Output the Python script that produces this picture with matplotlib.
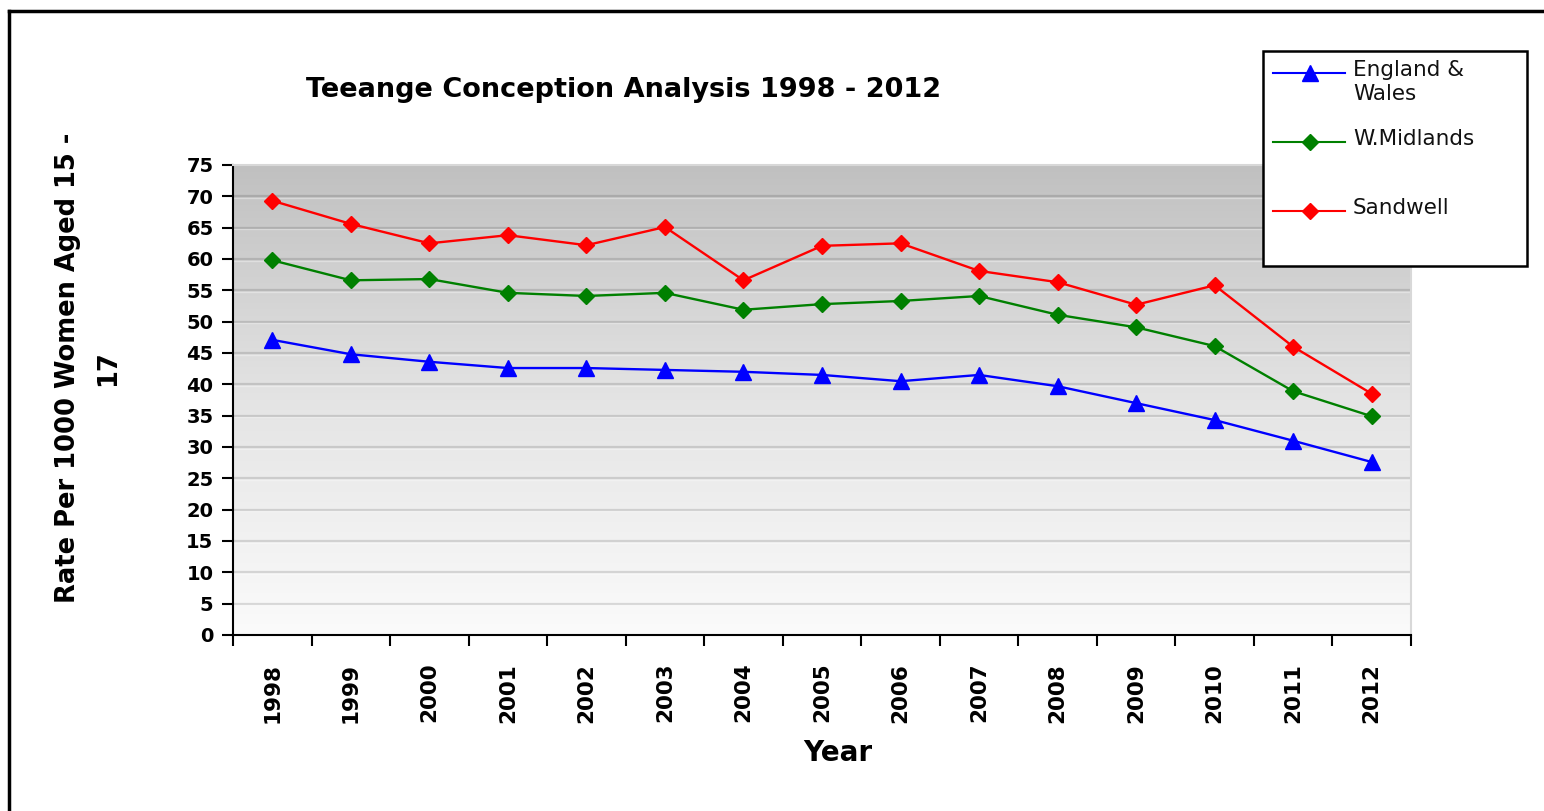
import numpy as np
import matplotlib
matplotlib.use("Agg")
import matplotlib.pyplot as plt
from matplotlib.lines import Line2D
from matplotlib.patches import Rectangle

years = ["1998", "1999", "2000", "2001", "2002", "2003", "2004", "2005",
         "2006", "2007", "2008", "2009", "2010", "2011", "2012"]
england_wales = [47.1, 44.8, 43.6, 42.6, 42.6, 42.3, 42.0, 41.5, 40.5, 41.5,
                 39.7, 37.0, 34.3, 31.0, 27.6]
w_midlands = [59.8, 56.6, 56.8, 54.6, 54.1, 54.6, 51.9, 52.8, 53.3, 54.1,
              51.1, 49.1, 46.1, 38.9, 34.9]
sandwell = [69.3, 65.6, 62.5, 63.8, 62.2, 65.1, 56.6, 62.1, 62.5, 58.1,
            56.3, 52.7, 55.8, 46.0, 38.5]
series_names = ["England &\nWales", "W.Midlands", "Sandwell"]
series_colors = ["#0000ff", "#008000", "#ff0000"]
series_markers = ["^", "D", "D"]
y_ticks = list(range(0, 80, 5))

plt.rcParams['font.family'] = ['DejaVu Sans']

W, H = 1544, 811
fig = plt.figure(figsize=(W / 100, H / 100), dpi=100)
fig.patch.set_facecolor("white")

def fx(px):
    return px / W

def fy(py):
    return 1 - py / H

ax = fig.add_axes([fx(233), fy(635), fx(1411) - fx(233), fy(165) - fy(635)])
x = np.arange(len(years))
ax.set_xlim(-0.5, len(years) - 0.5)
ax.set_ylim(0, 75)

# gradient background
grad = np.linspace(0, 1, 256).reshape(-1, 1)
cmap = matplotlib.colors.LinearSegmentedColormap.from_list("g", ["#fbfbfb", "#e4e4e4", "#c0c0c0"])
ax.imshow(grad, extent=[-0.5, len(years) - 0.5, 0, 75], origin="lower",
          aspect="auto", cmap=cmap, zorder=0)

for t in y_ticks[1:-1]:
    ax.axhline(t, color="black", alpha=0.13, lw=1.6, zorder=1)
    ax.axhline(t - 0.25, color="white", alpha=0.35, lw=1.0, zorder=1)

data = [england_wales, w_midlands, sandwell]
sizes = [11, 8.5, 8.5]
for vals, c, m, s in zip(data, series_colors, series_markers, sizes):
    ax.plot(x, vals, color=c, lw=1.7, marker=m, markersize=s,
            markeredgecolor=c, markerfacecolor=c, zorder=3)

ax.set_yticks(y_ticks)
ax.set_yticklabels([str(t) for t in y_ticks], fontsize=14, fontweight="bold")
ax.set_xticks(x)
ax.set_xticklabels(years, rotation=90, fontsize=15.5, fontweight="bold")
ax.set_xticks(np.arange(-0.5, len(years)), minor=True)
ax.tick_params(axis="x", which="major", length=0, pad=20)
ax.tick_params(axis="x", which="minor", length=8, width=1.5, direction="out")
ax.tick_params(axis="y", length=8, width=1.5, direction="out", pad=6)

for side in ["left", "bottom"]:
    ax.spines[side].set_color("black")
    ax.spines[side].set_linewidth(1.5)
for side in ["top", "right"]:
    ax.spines[side].set_color("#d8d8d8")
    ax.spines[side].set_linewidth(1.5)

ax.set_xlabel("Year", fontsize=20, fontweight="bold")
ax.xaxis.set_label_coords(0.513, -0.221)
fig.text(fx(88), fy(368), "Rate Per 1000 Women Aged 15 -\n17", rotation=90,
         ha="center", va="center", fontsize=18.5, fontweight="bold",
         multialignment="center", linespacing=1.7)

fig.text(fx(624), fy(90), "Teeange Conception Analysis 1998 - 2012",
         ha="center", va="center", fontsize=19.5, fontweight="bold")

# legend box (manual)
fig.add_artist(Rectangle((fx(1263), fy(266)), fx(1527) - fx(1263), fy(51) - fy(266),
                         transform=fig.transFigure, facecolor="white",
                         edgecolor="black", lw=1.8, zorder=5))
row_y = [73, 142, 211]
for name, c, m, s, ry in zip(series_names, series_colors, series_markers, sizes, row_y):
    fig.add_artist(Line2D([fx(1273), fx(1345)], [fy(ry), fy(ry)],
                          transform=fig.transFigure, color=c, lw=1.5, zorder=6))
    fig.add_artist(Line2D([fx(1310)], [fy(ry)], transform=fig.transFigure,
                          marker=m, markersize=s, color=c, zorder=6))
    fig.text(fx(1353), fy(ry - 13), name, ha="left", va="top", fontsize=15.5,
             color="#111111", zorder=7, linespacing=1.25)

# outer frame
fig.add_artist(Line2D([fx(9), fx(9)], [fy(11), 0], transform=fig.transFigure,
                      color="black", lw=2.5))
fig.add_artist(Line2D([fx(9), 1], [fy(11), fy(11)], transform=fig.transFigure,
                      color="black", lw=2.5))

fig.savefig("out.png", dpi=100)
